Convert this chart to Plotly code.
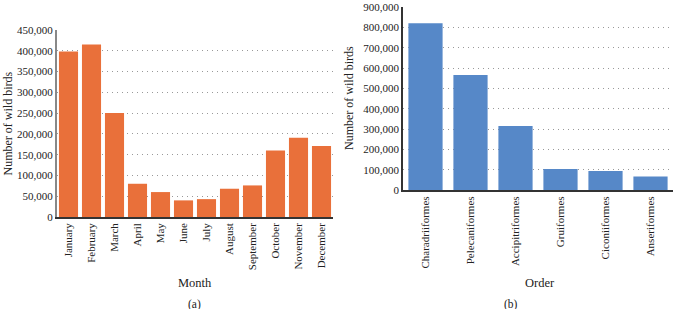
import plotly.graph_objects as go

months = ["January", "February", "March", "April", "May", "June", "July",
          "August", "September", "October", "November", "December"]
month_counts = [398000, 415000, 250000, 80000, 60000, 40000, 43000,
                68000, 76000, 160000, 191000, 171000]

orders = ["Charadriiformes", "Pelecaniformes", "Accipitriformes",
          "Gruiformes", "Ciconiiformes", "Anseriformes"]
order_counts = [820000, 566000, 316000, 104000, 95000, 68000]

W, H = 680, 309
FONT = "Liberation Serif"
ORANGE = "#E9703A"
BLUE = "#5688C8"
TXT = "#222"

fig = go.Figure()
fig.add_trace(go.Bar(x=months, y=month_counts, marker_color=ORANGE,
                     marker_line_width=0, xaxis="x", yaxis="y"))
fig.add_trace(go.Bar(x=orders, y=order_counts, marker_color=BLUE,
                     marker_line_width=0, xaxis="x2", yaxis="y2",
                     width=0.76))

def px(x):
    return x / W

def py(y):
    return (H - y) / H

axis_common = dict(tickfont=dict(family=FONT, size=11, color=TXT),
                   ticks="", showline=True, automargin=False)
grid = dict(showgrid=True, gridcolor="#999", griddash="1px,4px", gridwidth=1,
            zeroline=False)

fig.update_layout(
    width=W, height=H,
    margin=dict(l=0, r=0, t=0, b=0),
    paper_bgcolor="white", plot_bgcolor="white",
    showlegend=False,
    bargap=0.17,
    font=dict(family=FONT, size=11, color=TXT),
    xaxis=dict(domain=[px(57), px(333)], anchor="y", tickangle=-90,
               linecolor="#333", linewidth=1.5, showgrid=False,
               **axis_common),
    yaxis=dict(domain=[py(217), py(30)], anchor="x", range=[0, 450000],
               dtick=50000, tickformat=",d", linecolor="#888", linewidth=2,
               ticklabeloverflow="allow", **grid, **axis_common),
    xaxis2=dict(domain=[px(403), px(673)], anchor="y2", tickangle=-90,
                linecolor="#333", linewidth=1.5, showgrid=False,
                **axis_common),
    yaxis2=dict(domain=[py(190.3), py(7)], anchor="x2", range=[0, 900000],
                dtick=100000, tickformat=",d", linecolor="#333", linewidth=1.5,
                ticklabeloverflow="allow", **grid, **axis_common),
    annotations=[
        dict(text="Number of wild birds", x=px(8), y=py(123.5), xref="paper",
             yref="paper", textangle=-90, showarrow=False,
             xanchor="center", yanchor="middle",
             font=dict(family=FONT, size=12, color=TXT)),
        dict(text="Month", x=px(195), y=py(283), xref="paper", yref="paper",
             showarrow=False, xanchor="center", yanchor="middle",
             font=dict(family=FONT, size=12.5, color=TXT)),
        dict(text="(a)", x=px(194), y=py(304), xref="paper", yref="paper",
             showarrow=False, xanchor="center", yanchor="middle",
             font=dict(family=FONT, size=11.5, color=TXT)),
        dict(text="Number of wild birds", x=px(349), y=py(98), xref="paper",
             yref="paper", textangle=-90, showarrow=False,
             xanchor="center", yanchor="middle",
             font=dict(family=FONT, size=12, color=TXT)),
        dict(text="Order", x=px(540), y=py(283), xref="paper", yref="paper",
             showarrow=False, xanchor="center", yanchor="middle",
             font=dict(family=FONT, size=12.5, color=TXT)),
        dict(text="(b)", x=px(511), y=py(304), xref="paper", yref="paper",
             showarrow=False, xanchor="center", yanchor="middle",
             font=dict(family=FONT, size=11.5, color=TXT)),
    ],
)

fig.write_html("out.html", config={"displayModeBar": False},
               post_script="document.body.style.margin='0';"
                           "document.body.style.overflow='hidden';")
